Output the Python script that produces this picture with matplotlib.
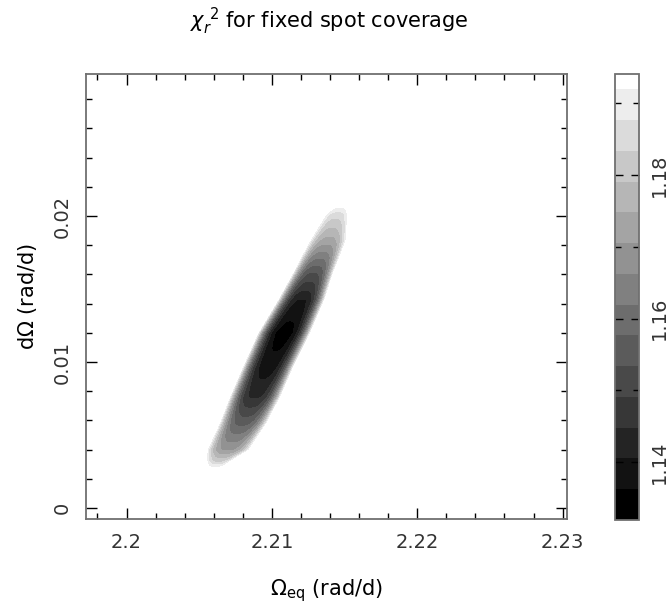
import numpy as np
import matplotlib
matplotlib.use("Agg")
import matplotlib.pyplot as plt
from matplotlib.colors import ListedColormap, BoundaryNorm
from matplotlib.cm import ScalarMappable
from matplotlib.ticker import MultipleLocator, FixedLocator

plt.rcParams['font.family'] = ['DejaVu Sans']
plt.rcParams['mathtext.fontset'] = 'dejavusans'

# ---- data: ridge of the chi^2 valley (row by row) ----
ridge_y = [0.0026, 0.00320, 0.00397, 0.00582, 0.00760, 0.00966, 0.01199,
           0.01425, 0.01610, 0.01836, 0.02010, 0.0209]
ridge_x = [2.2060, 2.20635, 2.20698, 2.20802, 2.20884, 2.20974, 2.21084,
           2.21201, 2.21283, 2.21387, 2.21445, 2.2148]
ridge_min = [1.196, 1.182, 1.170, 1.156, 1.144, 1.138, 1.134,
             1.140, 1.153, 1.173, 1.185, 1.196]
ridge_halfwidth = [0.0006, 0.0010, 0.00160, 0.00175, 0.00185, 0.00185, 0.00190,
                   0.00170, 0.00150, 0.00140, 0.00095, 0.0006]
edge_value = 1.200

cbar_min, cbar_max = 1.1319, 1.1941
cbar_ticks = [1.14, 1.16, 1.18]
cbar_minor = [1.15, 1.17, 1.19]
x_ticks = [2.20, 2.21, 2.22, 2.23]
x_ticklabels = ["2.2", "2.21", "2.22", "2.23"]
y_ticks = [0.0, 0.01, 0.02]
y_ticklabels = ["0", "0.01", "0.02"]
xlim = (2.19721, 2.2303)
ylim = (-0.00075, 0.02973)

# ---- field ----
gx = np.linspace(2.202, 2.219, 500)
gy = np.linspace(0.0015, 0.0225, 500)
X, Y = np.meshgrid(gx, gy)
xc = np.interp(gy, ridge_y, ridge_x)[:, None]
cm_ = np.interp(gy, ridge_y, ridge_min, left=edge_value, right=edge_value)[:, None]
hw = np.interp(gy, ridge_y, ridge_halfwidth)[:, None]
Z = cm_ + (edge_value - cm_) * np.abs((X - xc) / hw) ** 3

nb = 15
h = (cbar_max - cbar_min) / 14.5
bounds = list(cbar_min + h * np.arange(15)) + [cbar_max]
grays = np.linspace(0, 1, nb)
cmap = ListedColormap([(g, g, g) for g in grays])
norm = BoundaryNorm(bounds, nb)

fig = plt.figure(figsize=(6.72, 6.11), dpi=100)
ax = fig.add_axes([86/672, 1-519/611, (567-86)/672, (519-74)/611])
cax = fig.add_axes([615/672, 1-520/611, 24/672, (520-74)/611])

ax.contourf(X, Y, Z, levels=bounds, cmap=cmap, norm=norm)
ax.set_xlim(*xlim)
ax.set_ylim(*ylim)

ax.set_xticks(x_ticks)
ax.set_xticklabels(x_ticklabels)
ax.set_yticks(y_ticks)
ax.set_yticklabels(y_ticklabels, rotation=90, va='center')
ax.xaxis.set_minor_locator(MultipleLocator(0.002))
ax.yaxis.set_minor_locator(MultipleLocator(0.002))
ax.tick_params(which='both', direction='in', top=True, right=True,
               color='black', width=1.0, labelsize=14, labelcolor='#333333')
ax.tick_params(which='major', length=8, pad=10)
ax.tick_params(which='minor', length=4.5)
for s in ax.spines.values():
    s.set_color('#707070')
    s.set_linewidth(1.3)

ax.set_xlabel("$\\Omega_{\\mathrm{eq}}$ (rad/d)", fontsize=15, labelpad=18)
ax.set_ylabel("d$\\Omega$ (rad/d)", fontsize=15, labelpad=10)
fig.text(0.49, 0.965, "$\\chi_r^{\\ 2}$ for fixed spot coverage", ha='center',
         va='center', fontsize=15)

sm = ScalarMappable(norm=norm, cmap=cmap)
cb = fig.colorbar(sm, cax=cax, spacing='proportional')
cb.outline.set_edgecolor('#707070')
cb.outline.set_linewidth(1.3)
cax.set_ylim(cbar_min, cbar_max)
cax.yaxis.set_major_locator(FixedLocator(cbar_ticks))
cax.yaxis.set_minor_locator(FixedLocator(cbar_minor))
cax.set_yticklabels(["%.2f" % t for t in cbar_ticks], rotation=90, va='center')
cax.tick_params(which='both', direction='in', left=True, right=True,
                labelleft=False, labelright=True, color='black', width=1.0,
                labelsize=14, labelcolor='#333333')
cax.tick_params(which='major', length=6, pad=8)
cax.tick_params(which='minor', length=4)

fig.savefig("out.png", dpi=100)
